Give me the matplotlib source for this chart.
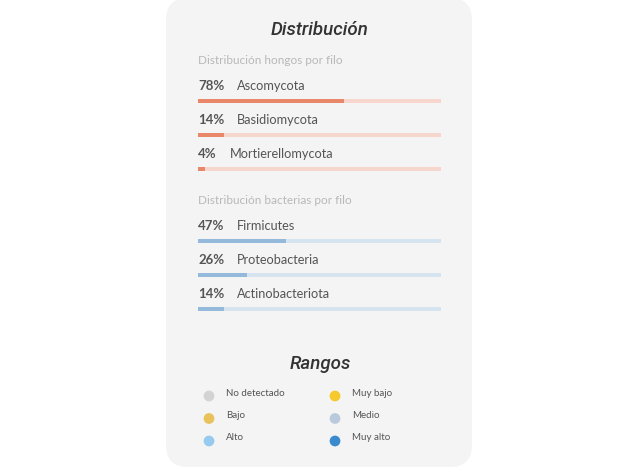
import matplotlib
matplotlib.use("Agg")
import matplotlib.pyplot as plt
from matplotlib.patches import FancyBboxPatch

# data
fungi_names = ["Ascomycota", "Basidiomycota", "Mortierellomycota"]
fungi_pct = [78, 14, 4]
bact_names = ["Firmicutes", "Proteobacteria", "Actinobacteriota"]
bact_pct = [47, 26, 14]
bar_max = 130  # track length in percent units

range_labels = ["No detectado", "Muy bajo", "Bajo", "Medio", "Alto", "Muy alto"]
range_colors = ["#d3d3d3", "#f6c92c", "#e9c25c", "#b9cadd", "#98c9ef", "#3a8bcd"]

W, H = 637, 468
fig = plt.figure(figsize=(W / 100, H / 100), dpi=100)
fig.patch.set_facecolor("white")

body = ["Lato", "DejaVu Sans"]
head = ["Roboto", "DejaVu Sans"]

# card background
bg = fig.add_axes([0, 0, 1, 1])
bg.set_xlim(0, W)
bg.set_ylim(H, 0)
bg.axis("off")
bg.add_patch(FancyBboxPatch((166, -2), 306, 469, boxstyle="round,pad=0,rounding_size=22",
                            facecolor="#f4f4f4", edgecolor="none"))

bg.text(320, 30, "Distribución", ha="center", va="center", fontsize=13.5, style="italic",
        fontweight="medium", family=head, color="#333333")
bg.text(198, 61, "Distribución hongos por filo", ha="left", va="center", fontsize=8.5,
        family=body, color="#b8b8b8")
bg.text(198, 200, "Distribución bacterias por filo", ha="left", va="center", fontsize=8.5,
        family=body, color="#b8b8b8")
bg.text(320, 364, "Rangos", ha="center", va="center", fontsize=13.5, style="italic",
        fontweight="medium", family=head, color="#333333")


def section(first_px, names, pct, fill, track):
    # rows 34px apart, axes spans from first bar - 34 to last bar + 12
    top, bot = first_px - 34, first_px + 2 * 34 + 12
    ax = fig.add_axes([198 / W, 1 - bot / H, 243 / W, (bot - top) / H])
    ax.set_xlim(0, bar_max)
    ax.set_ylim((bot - first_px) / 34, (top - first_px) / 34)
    ax.axis("off")
    rows = range(len(names))
    ax.barh(rows, [bar_max] * len(names), height=4 / 34, color=track)
    ax.barh(rows, pct, height=4 / 34, color=fill)
    for i in rows:
        t = ax.text(0, i - 0.42, f"{pct[i]}%", ha="left", va="center", fontsize=9.5,
                    fontweight="bold", family=body, color="#555555")
        ax.annotate(names[i], xy=(1, 0.5), xycoords=t, xytext=(9.3, 0),
                    textcoords="offset points", ha="left", va="center", fontsize=9.2,
                    family=body, color="#555555")


section(100.5, fungi_names, fungi_pct, "#e8876a", "#f6d6cd")
section(240.5, bact_names, bact_pct, "#95b9db", "#d6e4f0")

# legend of ranges
lx0, ly0, dx, dy = 209, 396, 126, 22.5
left, right, top, bot = 190, 450, 380, 455
lg = fig.add_axes([left / W, 1 - bot / H, (right - left) / W, (bot - top) / H])
lg.set_xlim((left - lx0) / dx, (right - lx0) / dx)
lg.set_ylim((bot - ly0) / dy, (top - ly0) / dy)
lg.axis("off")
cols = [i % 2 for i in range(len(range_labels))]
rws = [i // 2 for i in range(len(range_labels))]
lg.scatter(cols, rws, s=60, c=range_colors, edgecolors="none")
for c, r, lab in zip(cols, rws, range_labels):
    lg.text(c + 17 / dx, r - 3 / dy, lab, ha="left", va="center", fontsize=7,
            family=body, color="#555555")

fig.savefig("out.png", dpi=100, facecolor="white")
